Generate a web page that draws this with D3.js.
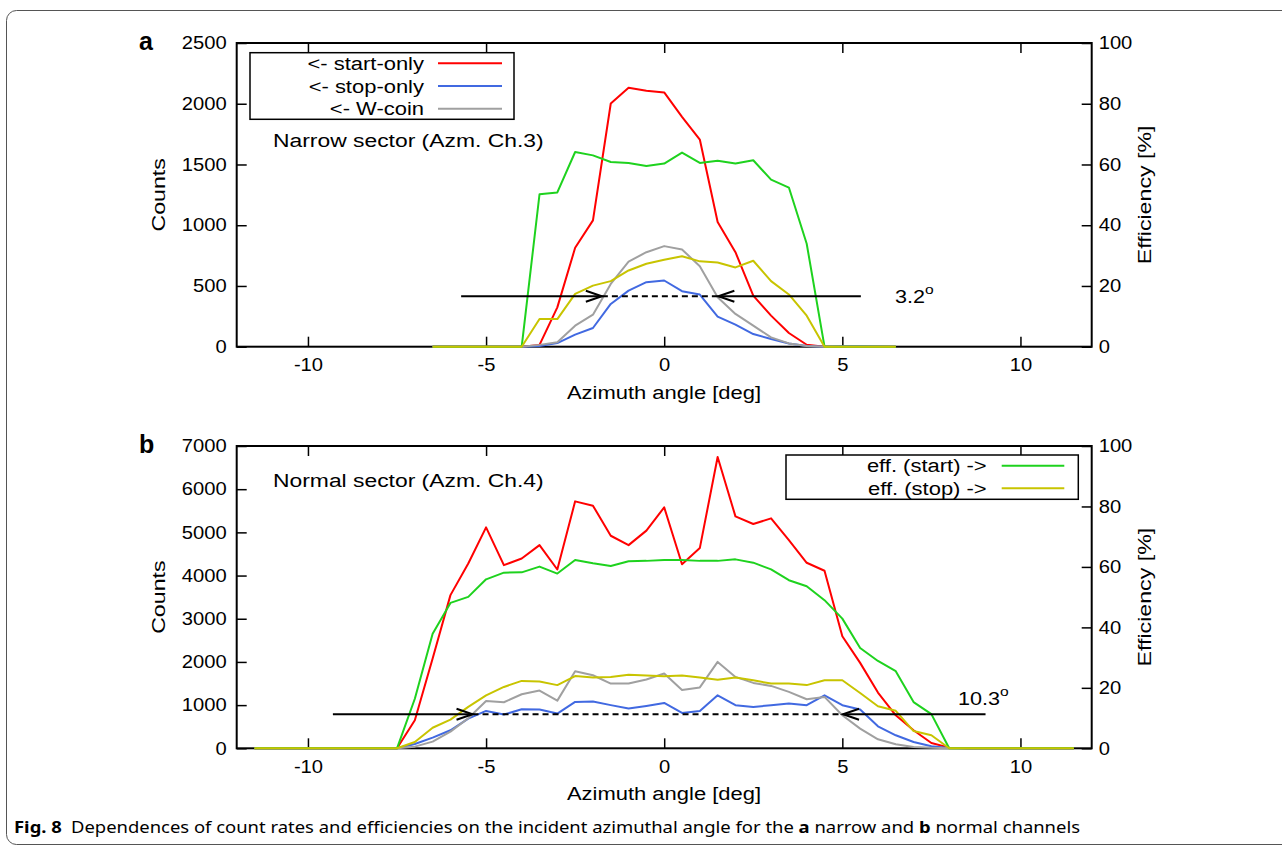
<!DOCTYPE html>
<html>
<head>
<meta charset="utf-8">
<script src="https://cdn.jsdelivr.net/npm/d3@7"></script>
<style>
    body { margin: 0; background: #fff; }
    svg text { font-family: "Liberation Sans", Arial, sans-serif; fill: #000; }
</style>
</head>
<body>
<svg id="fig" width="1282" height="847"></svg>
<script>
// Variables
// (a) narrow sector, Azm. Ch.3
var anglesA = [-6.5, -6, -5.5, -5, -4.5, -4, -3.5, -3, -2.5, -2, -1.5, -1, -0.5, 0,
    0.5, 1, 1.5, 2, 2.5, 3, 3.5, 4, 4.5, 5, 5.5, 6, 6.5];
var startOnlyA = [0, 0, 0, 0, 0, 0, 15, 324, 814, 1040, 2002, 2131, 2107, 2093,
    1892, 1705, 1026, 778, 421, 256, 113, 16, 0, 0, 0, 0, 0];
var stopOnlyA = [0, 0, 0, 0, 0, 0, 5, 30, 99, 154, 352, 462, 531, 545,
    457, 429, 248, 181, 104, 63, 27, 5, 0, 3, 3, 2, 0];
var wCoinA = [0, 0, 0, 0, 0, 0, 15, 36, 173, 264, 517, 701, 778, 828,
    800, 663, 407, 270, 173, 77, 27, 5, 0, 0, 0, 0, 0];
var effStartA = [0, 0, 0, 0, 0, 0, 50.2, 50.8, 64.1, 63.0, 60.8, 60.5, 59.5, 60.3,
    63.9, 60.5, 61.2, 60.3, 61.4, 55.0, 52.4, 33.9, 0, 0, 0, 0, 0];
var effStopA = [0, 0, 0, 0, 0, 0, 9.1, 9.1, 17.4, 20.1, 21.6, 25.1, 27.3, 28.6,
    29.8, 28.1, 27.7, 26.1, 28.3, 21.6, 17.2, 10.2, 0, 0, 0, 0, 0];

// (b) normal sector, Azm. Ch.4
var anglesB = [-11.5, -11, -10.5, -10, -9.5, -9, -8.5, -8, -7.5, -7, -6.5, -6, -5.5, -5,
    -4.5, -4, -3.5, -3, -2.5, -2, -1.5, -1, -0.5, 0, 0.5, 1, 1.5, 2, 2.5, 3, 3.5, 4,
    4.5, 5, 5.5, 6, 6.5, 7, 7.5, 8, 8.5, 9, 9.5, 10, 10.5, 11, 11.5];
var startOnlyB = [0, 0, 0, 0, 0, 0, 0, 0, 0, 650, 2080, 3547, 4280, 5115,
    4241, 4396, 4705, 4141, 5718, 5618, 4922, 4705, 5040, 5579, 4263, 4636, 6745, 5370, 5193, 5325, 4822, 4296,
    4111, 2596, 1978, 1291, 765, 417, 124, 15, 0, 0, 0, 0, 0, 0, 0];
var stopOnlyB = [0, 0, 0, 0, 0, 0, 0, 0, 0, 100, 246, 417, 688, 865,
    781, 904, 897, 804, 1074, 1082, 1000, 920, 981, 1051, 819, 865, 1228, 997, 958, 997, 1035, 997,
    1228, 997, 897, 510, 301, 146, 46, 5, 0, 0, 0, 0, 0, 0, 0];
var wCoinB = [0, 0, 0, 0, 0, 0, 0, 0, 0, 38, 154, 386, 696, 1097,
    1066, 1252, 1336, 1104, 1785, 1692, 1499, 1499, 1592, 1731, 1348, 1410, 2000, 1653, 1514, 1445, 1306, 1136,
    1190, 765, 456, 209, 93, 30, 10, 0, 0, 0, 0, 0, 0, 0, 0];
var effStartB = [0, 0, 0, 0, 0, 0, 0, 0, 0, 16.4, 37.9, 48.1, 50.1, 55.9,
    58.1, 58.2, 60.1, 57.8, 62.3, 61.2, 60.3, 61.9, 62.0, 62.3, 62.3, 62.0, 62.0, 62.5, 61.4, 59.2, 55.6, 53.6,
    49.0, 42.9, 33.2, 28.9, 25.5, 15.3, 11.3, 0, 0, 0, 0, 0, 0, 0, 0];
var effStopB = [0, 0, 0, 0, 0, 0, 0, 0, 0, 2.1, 6.8, 9.5, 13.7, 17.5,
    20.3, 22.3, 22.1, 20.9, 23.9, 23.4, 23.6, 24.3, 24.1, 23.8, 24.1, 23.4, 22.7, 23.4, 22.5, 21.4, 21.4, 20.9,
    22.5, 22.5, 18.3, 13.9, 12.4, 5.7, 4.3, 0, 0, 0, 0, 0, 0, 0, 0];

// FWHM markers: [level in counts, line start, left tip, right tip, line end]
var fwhmA = [415, -5.7, -1.75, 1.52, 5.52];
var fwhmB = [790, -9.3, -5.38, 5.02, 9.02];

var angleTicks = [-10, -5, 0, 5, 10];
var countTicksA = [0, 500, 1000, 1500, 2000, 2500];
var countTicksB = [0, 1000, 2000, 3000, 4000, 5000, 6000, 7000];
var effTicks = [0, 20, 40, 60, 80, 100];

var countSeries = ['<- start-only', '<- stop-only', '<- W-coin'];
var effSeries = ['eff. (start) ->', 'eff. (stop) ->'];
var colors = {start: '#ff0000', stop: '#4169e1', wcoin: '#a0a0a0', effStart: '#1ed21e', effStop: '#c8c400'};

var svg = d3.select('#fig');

// Functions
function stretch(sel, k) {
    sel.each(function () {
        var w = this.getComputedTextLength();
        d3.select(this).attr('textLength', w * k).attr('lengthAdjust', 'spacingAndGlyphs');
    });
}

function arrowHead(g, x, y, dir) {
    // open chevron, dir = +1 points right, -1 points left
    g.append('path')
        .attr('d', 'M' + (x - dir * 16) + ',' + (y - 5.5) + 'L' + x + ',' + y + 'L' + (x - dir * 16) + ',' + (y + 5.5))
        .attr('fill', 'none').attr('stroke', '#000').attr('stroke-width', 2);
}

function drawPanel(p) {
    var x = d3.scaleLinear().domain([-12, 12]).range([236.7, 1091.7]);
    var yL = d3.scaleLinear().domain([0, p.countMax]).range([p.bottom, p.top]);
    var yR = d3.scaleLinear().domain([0, 100]).range([p.bottom, p.top]);

    var g = svg.append('g');

    // axes with inward ticks
    var axes = [
        g.append('g').attr('transform', 'translate(' + x.range()[0] + ',0)')
            .call(d3.axisLeft(yL).tickValues(p.countTicks).tickSize(-10).tickPadding(10).tickFormat(d => String(d))),
        g.append('g').attr('transform', 'translate(' + x.range()[1] + ',0)')
            .call(d3.axisRight(yR).tickValues(effTicks).tickSize(-10).tickPadding(7).tickFormat(d => String(d))),
        g.append('g').attr('transform', 'translate(0,' + p.bottom + ')')
            .call(d3.axisBottom(x).tickValues(angleTicks).tickSize(-10).tickPadding(12).tickFormat(d => String(d))),
        g.append('g').attr('transform', 'translate(0,' + p.top + ')')
            .call(d3.axisTop(x).tickValues(angleTicks).tickSize(-10).tickFormat(''))
    ];
    axes.forEach(function (a) {
        a.select('.domain').remove();
        a.attr('font-family', null).attr('font-size', 18);
        a.selectAll('line').attr('stroke', '#000').attr('stroke-width', 1.5);
        stretch(a.selectAll('text'), 1.12);
    });

    g.append('rect')
        .attr('x', x.range()[0]).attr('y', p.top)
        .attr('width', x.range()[1] - x.range()[0]).attr('height', p.bottom - p.top)
        .attr('fill', 'none').attr('stroke', '#000').attr('stroke-width', 2);

    // data lines
    var series = [
        [p.start, yL, colors.start],
        [p.stop, yL, colors.stop],
        [p.wcoin, yL, colors.wcoin],
        [p.effStart, yR, colors.effStart],
        [p.effStop, yR, colors.effStop]
    ];
    series.forEach(function (s) {
        var line = d3.line()
            .x(function (d, i) { return x(p.angles[i]); })
            .y(function (d) { return s[1](d); });
        g.append('path')
            .datum(s[0])
            .attr('d', line)
            .attr('fill', 'none')
            .attr('stroke', s[2])
            .attr('stroke-width', 2)
            .attr('stroke-linejoin', 'round');
    });

    // FWHM marker
    var f = p.fwhm, fy = yL(f[0]);
    g.append('line').attr('x1', x(f[1])).attr('x2', x(f[2])).attr('y1', fy).attr('y2', fy)
        .attr('stroke', '#000').attr('stroke-width', 2);
    g.append('line').attr('x1', x(f[3])).attr('x2', x(f[4])).attr('y1', fy).attr('y2', fy)
        .attr('stroke', '#000').attr('stroke-width', 2);
    g.append('line').attr('x1', x(f[2])).attr('x2', x(f[3])).attr('y1', fy).attr('y2', fy)
        .attr('stroke', '#000').attr('stroke-width', 2).attr('stroke-dasharray', '6,4');
    arrowHead(g, x(f[2]), fy, 1);
    arrowHead(g, x(f[3]), fy, -1);

    var fl = g.append('text').attr('x', p.fwhmLabel[0]).attr('y', p.fwhmLabel[1]).attr('font-size', 18);
    fl.append('tspan').text(p.fwhmText);
    fl.append('tspan').attr('dy', -9).attr('font-size', 13).text('o');
    stretch(fl, 1.2);

    // labels
    var sec = g.append('text').attr('x', 273).attr('y', p.top + p.sectorDy).attr('font-size', 18).text(p.sector);
    stretch(sec, 1.27);
    var t = [];
    t.push(g.append('text').attr('x', 664).attr('y', p.bottom + 52).attr('text-anchor', 'middle')
        .attr('font-size', 18).text('Azimuth angle [deg]'));
    t.push(g.append('text').attr('transform', 'translate(165,' + (p.top + p.bottom) / 2 + ') rotate(-90)')
        .attr('text-anchor', 'middle').attr('font-size', 19).text('Counts'));
    t.push(g.append('text').attr('transform', 'translate(1151,' + (p.top + p.bottom) / 2 + ') rotate(-90)')
        .attr('text-anchor', 'middle').attr('font-size', 19).text('Efficiency [%]'));
    t.forEach(function (s) { stretch(s, 1.22); });

    g.append('text').attr('x', 139).attr('y', p.top + 6.5).attr('font-size', 25)
        .attr('font-weight', 'bold').text(p.letter);

    // legend
    var L = p.legend;
    g.append('rect').attr('x', L.x0).attr('y', L.y0).attr('width', L.x1 - L.x0).attr('height', L.y1 - L.y0)
        .attr('fill', '#fff').attr('stroke', '#000').attr('stroke-width', 1.5);
    L.names.forEach(function (name, i) {
        var ry = L.rowY[i];
        var lt = g.append('text').attr('x', L.textX).attr('y', ry + 6.5).attr('text-anchor', 'end')
            .attr('font-size', 18).text(name);
        stretch(lt, 1.22);
        g.append('line').attr('x1', L.lx0).attr('x2', L.lx1).attr('y1', ry).attr('y2', ry)
            .attr('stroke', L.colors[i]).attr('stroke-width', 2);
    });
}

function init() {
    svg.append('rect').attr('width', 1282).attr('height', 847).attr('fill', '#fff');
    svg.append('rect').attr('x', 6.5).attr('y', 10.5).attr('width', 1330).attr('height', 834)
        .attr('rx', 10).attr('fill', 'none').attr('stroke', '#555').attr('stroke-width', 1);

    drawPanel({
        letter: 'a', top: 43, bottom: 346.7, countMax: 2500, countTicks: countTicksA,
        angles: anglesA, start: startOnlyA, stop: stopOnlyA, wcoin: wCoinA,
        effStart: effStartA, effStop: effStopA,
        fwhm: fwhmA, fwhmText: '3.2', fwhmLabel: [895, 303],
        sector: 'Narrow sector (Azm. Ch.3)', sectorDy: 103.7,
        legend: {x0: 250, x1: 514, y0: 52.7, y1: 119.3, textX: 424, lx0: 438, lx1: 502,
            rowY: [63.3, 86, 108.7], names: countSeries,
            colors: [colors.start, colors.stop, colors.wcoin]}
    });
    drawPanel({
        letter: 'b', top: 446, bottom: 748.3, countMax: 7000, countTicks: countTicksB,
        angles: anglesB, start: startOnlyB, stop: stopOnlyB, wcoin: wCoinB,
        effStart: effStartB, effStop: effStopB,
        fwhm: fwhmB, fwhmText: '10.3', fwhmLabel: [958, 705],
        sector: 'Normal sector (Azm. Ch.4)', sectorDy: 40.7,
        legend: {x0: 786, x1: 1078.3, y0: 455, y1: 499.3, textX: 986.7, lx0: 1001.7, lx1: 1064.3,
            rowY: [465.7, 488.3], names: effSeries,
            colors: [colors.effStart, colors.effStop]}
    });

    // caption
    var cap = svg.append('text').attr('x', 14).attr('y', 833).attr('font-size', 16.5)
        .style('font-family', '"Noto Sans", "Open Sans", sans-serif');
    cap.append('tspan').attr('font-weight', 'bold').text('Fig. 8');
    cap.append('tspan').text('\u2002Dependences of count rates and efficiencies on the incident azimuthal angle for the ');
    cap.append('tspan').attr('font-weight', 'bold').text('a');
    cap.append('tspan').text(' narrow and ');
    cap.append('tspan').attr('font-weight', 'bold').text('b');
    cap.append('tspan').text(' normal channels');
    cap.attr('textLength', 1066).attr('lengthAdjust', 'spacingAndGlyphs');
}

init();
</script>
</body>
</html>
